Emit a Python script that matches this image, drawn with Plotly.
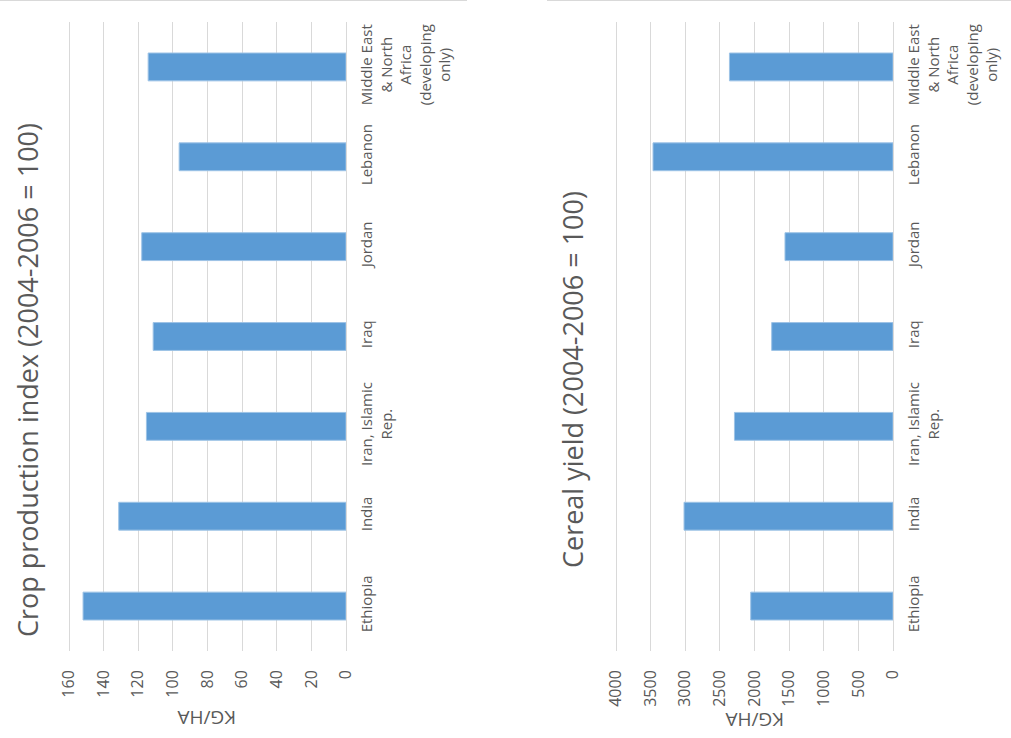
import plotly.graph_objects as go

# ---- data ----
categories = ["Ethiopia", "India", "Iran, Islamic Rep.", "Iraq", "Jordan", "Lebanon",
              "Middle East & North Africa (developing only)"]
tick_labels = ["Ethiopia", "India", "Iran, Islamic<br>Rep.", "Iraq", "Jordan", "Lebanon",
               "Middle East<br>& North<br>Africa<br>(developing<br>only)"]
crop_index = [151.9, 131.3, 115.3, 111.4, 118.0, 96.4, 114.3]
cereal_yield = [2055, 3018, 2290, 1752, 1560, 3466, 2362]
crop_ticks = [0, 20, 40, 60, 80, 100, 120, 140, 160]
cereal_ticks = [0, 500, 1000, 1500, 2000, 2500, 3000, 3500, 4000]
title_left = "Crop production index (2004-2006 = 100)"
title_right = "Cereal yield (2004-2006 = 100)"
axis_title = "KG/HA"

W, H = 1011, 738
def px(x):
    return x / W
def py(y):
    return 1 - y / H

BLUE = "#5B9BD5"
GRID = "#D9D9D9"
TXT = "#595959"
FONT = "Open Sans"

fig = go.Figure()
fig.add_trace(go.Bar(x=crop_index, y=categories, orientation="h",
                     marker=dict(color=BLUE, line=dict(color="#9DC3E6", width=1)),
                     xaxis="x", yaxis="y"))
fig.add_trace(go.Bar(x=cereal_yield, y=categories, orientation="h",
                     marker=dict(color=BLUE, line=dict(color="#9DC3E6", width=1)),
                     xaxis="x2", yaxis="y2"))

xcommon = dict(showgrid=True, gridcolor=GRID, gridwidth=1, zeroline=False,
               tickangle=-90, ticks="", showline=False,
               tickfont=dict(family=FONT, size=16, color=TXT),
               ticklabelstandoff=15)
ycommon = dict(type="category", categoryorder="array", categoryarray=categories,
               tickmode="array", tickvals=categories, ticktext=tick_labels,
               side="right", tickangle=-90, showgrid=False, zeroline=False,
               showline=True, linecolor=GRID, linewidth=1, ticks="",
               tickfont=dict(family=FONT, size=15, color=TXT),
               ticklabelstandoff=7,
               domain=[py(651), py(22)])

fig.update_layout(
    width=W, height=H, margin=dict(l=0, r=0, t=0, b=0, autoexpand=False),
    plot_bgcolor="white", paper_bgcolor="white", showlegend=False,
    bargap=0.69,
    xaxis=dict(domain=[px(68), px(346)], range=[160.6, 0], tickvals=crop_ticks,
               anchor="y", **xcommon),
    yaxis=dict(anchor="x", **ycommon),
    xaxis2=dict(domain=[px(615), px(893)], range=[4015, 0], tickvals=cereal_ticks,
                anchor="y2", **xcommon),
    yaxis2=dict(anchor="x2", **ycommon),
)

# titles and axis titles
def note(text, x, y, angle, size):
    fig.add_annotation(text=text, x=px(x), y=py(y), xref="paper", yref="paper",
                       xanchor="center", yanchor="middle",
                       textangle=angle, showarrow=False,
                       font=dict(family=FONT, size=size, color=TXT))

note(title_left, 27, 380, -90, 27)
note(title_right, 572, 380, -90, 27)
note(axis_title, 207, 718, 180, 19)
note(axis_title, 755, 720, 180, 19)

# chart-area border edges visible at top
fig.add_shape(type="line", xref="paper", yref="paper", x0=0, x1=px(467), y0=py(0.5), y1=py(0.5),
              line=dict(color=GRID, width=1))
fig.add_shape(type="line", xref="paper", yref="paper", x0=px(547), x1=1, y0=py(0.5), y1=py(0.5),
              line=dict(color=GRID, width=1))

fig.write_html("out.html", config={"displayModeBar": False},
               post_script="document.body.style.margin='0';document.body.style.overflow='hidden';")
